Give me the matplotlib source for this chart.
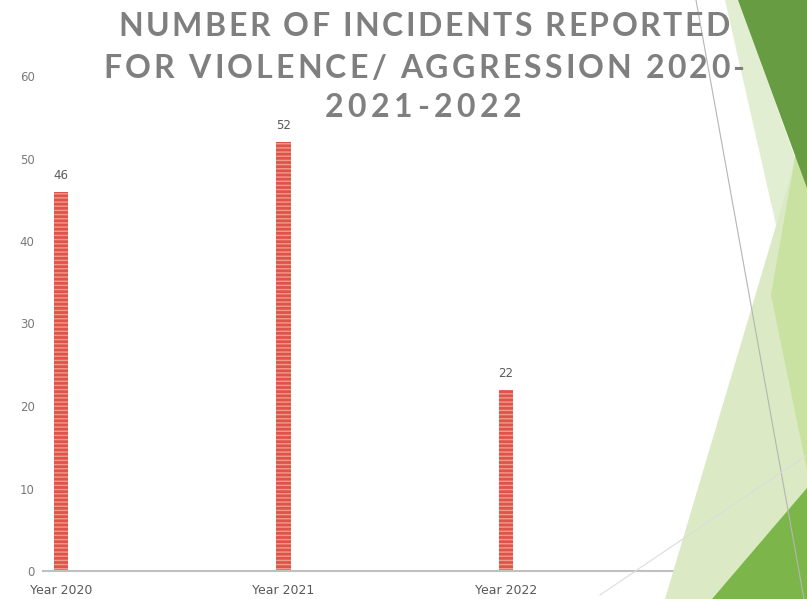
import matplotlib
matplotlib.use("Agg")
import matplotlib.pyplot as plt
from matplotlib.patches import Polygon
from matplotlib.lines import Line2D
from matplotlib.font_manager import FontProperties

# data
categories = ["Year 2020", "Year 2021", "Year 2022"]
incidents = [46, 52, 22]
y_ticks = [0, 10, 20, 30, 40, 50, 60]
title_lines = ["NUMBER OF INCIDENTS REPORTED",
               "FOR VIOLENCE/ AGGRESSION 2020-",
               "2021-2022"]

W, H = 807, 599
plt.rcParams["hatch.linewidth"] = 1.0

fig = plt.figure(figsize=(W / 100, H / 100), dpi=100)
fig.patch.set_facecolor("white")


def px(x, y):
    """pixel coords (top-left origin) -> figure fraction"""
    return (x / W, 1 - y / H)


# slide decoration on the right
shapes = [
    ([(725, 0), (739, 0), (800, 172), (776, 225)], "#e2eed2"),
    ([(800, 145), (807, 145), (807, 599), (665, 599)], "#dbeac5"),
    ([(798, 140), (807, 140), (807, 470), (771, 295)], "#c9e2a2"),
    ([(738, 0), (807, 0), (807, 188)], "#679c42"),
    ([(807, 488), (807, 599), (712, 599)], "#7cb64a"),
]
for pts, col in shapes:
    fig.patches.append(Polygon([px(*p) for p in pts], closed=True, facecolor=col,
                               edgecolor="none", transform=fig.transFigure, zorder=0))
for (x0, y0), (x1, y1), col in [((696, 0), (804, 599), "#b5b5b5"),
                                 ((600, 595), (807, 455), "#dcdcdc")]:
    a, b = px(x0, y0), px(x1, y1)
    fig.lines.append(Line2D([a[0], b[0]], [a[1], b[1]], color=col, lw=0.8,
                            transform=fig.transFigure, zorder=0.5))

ax = fig.add_axes([43 / W, 28 / H, 764 / W, 495 / H])
ax.patch.set_alpha(0)
x = list(range(len(categories)))
bars = ax.bar(x, incidents, width=0.063, color="#df5449", edgecolor="#f29a8e",
              linewidth=0, hatch="----", zorder=2)
for xi, v in zip(x, incidents):
    ax.annotate(str(v), (xi, v), xytext=(0, 7), textcoords="offset points",
                ha="center", va="bottom", fontsize=8.5, color="#595959")

ax.set_xlim(-0.081, 3.353)
ax.set_ylim(0, 60)
ax.set_yticks(y_ticks)
ax.set_xticks(x)
ax.set_xticklabels(categories)
ax.tick_params(axis="y", length=0, pad=6, labelsize=8.5, labelcolor="#7a7a7a")
ax.tick_params(axis="x", length=0, pad=9, labelsize=9, labelcolor="#595959")
for s in ["top", "right", "left"]:
    ax.spines[s].set_visible(False)
ax.spines["bottom"].set_color("#c0c0c0")
ax.spines["bottom"].set_linewidth(1.5)

# letter-spaced title, fitted to the widths seen on the slide
fp = FontProperties(family="Lato", weight="bold", size=23)
renderer = fig.canvas.get_renderer()
line_specs = [(424, 26, 612), (424, 68, 641), (423, 108, 197)]
for s, (cx, cy, target) in zip(title_lines, line_specs):
    natural = renderer.get_text_width_height_descent(s, fp, ismath=False)[0]
    gap = (target - natural) / (len(s) - 1)
    left = cx - target / 2
    for i, ch in enumerate(s):
        if ch == " ":
            continue
        off = renderer.get_text_width_height_descent(s[:i], fp, ismath=False)[0] if i else 0
        fig.text(*px(left + off + i * gap, cy), ch, fontproperties=fp,
                 color="#7f7f7f", ha="left", va="center", zorder=5)

fig.savefig("out.png", dpi=100)
